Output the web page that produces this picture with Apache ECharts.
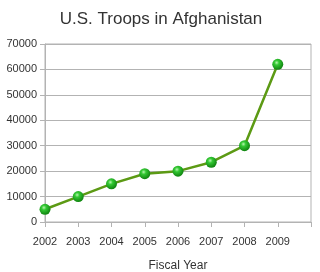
<!DOCTYPE html>
<html><head><meta charset="utf-8">
<script src="https://cdn.jsdelivr.net/npm/echarts@6/dist/echarts.min.js"></script>
<style>html,body{margin:0;padding:0;background:#fff}#c{width:320px;height:272px}</style>
</head><body><div id="c"></div>
<script>
const titleText = 'U.S. Troops in Afghanistan';
const xAxisName = 'Fiscal Year';
const categories = ['2002','2003','2004','2005','2006','2007','2008','2009',''];
const troops = [5000, 10000, 15000, 19000, 20000, 23500, 30000, 62000];
const yTicks = { min: 0, max: 70000, interval: 10000 };

const chart = echarts.init(document.getElementById('c'), null, {renderer:'canvas'});
const font = 'Liberation Sans';
chart.setOption({
  animation: false,
  backgroundColor: '#fff',
  title: {
    text: titleText, left: 156, top: 6, textAlign: 'center',
    textStyle: { fontFamily: font, fontSize: 17, fontWeight: 'normal', color: '#333' }
  },
  grid: { left: 45, right: 9, top: 44, bottom: 50, show: true, borderColor: '#b3b3b3', borderWidth: 1,
          containLabel: false, outerBoundsMode: 'none' },
  xAxis: {
    type: 'category', data: categories, boundaryGap: false,
    name: xAxisName, nameLocation: 'middle', nameGap: 38,
    nameTextStyle: { fontFamily: font, fontSize: 12, color: '#333' },
    axisLine: { lineStyle: { color: '#b3b3b3', width: 1 } },
    axisTick: { show: true, length: 5, interval: 0, lineStyle: { color: '#b3b3b3' } },
    axisLabel: { interval: 0, margin: 14, fontFamily: font, fontSize: 11, color: '#333' },
    splitLine: { show: false }
  },
  yAxis: {
    type: 'value', min: yTicks.min, max: yTicks.max, interval: yTicks.interval,
    axisLine: { show: true, lineStyle: { color: '#b3b3b3', width: 1 } },
    axisTick: { show: true, length: 5, lineStyle: { color: '#b3b3b3' } },
    axisLabel: { margin: 8, fontFamily: font, fontSize: 11, color: '#333', formatter: v => String(v) },
    splitLine: { show: true, lineStyle: { color: '#b3b3b3', width: 1 } }
  },
  series: [{
    type: 'line', data: troops,
    lineStyle: { color: '#5c9a14', width: 2.5 },
    symbol: 'circle', symbolSize: 11,
    itemStyle: {
      color: new echarts.graphic.RadialGradient(0.4, 0.35, 0.6, [
        { offset: 0, color: '#b8f5b0' },
        { offset: 0.35, color: '#34c934' },
        { offset: 1, color: '#138a13' }
      ]),
      borderWidth: 0
    }
  }]
});
</script></body></html>
